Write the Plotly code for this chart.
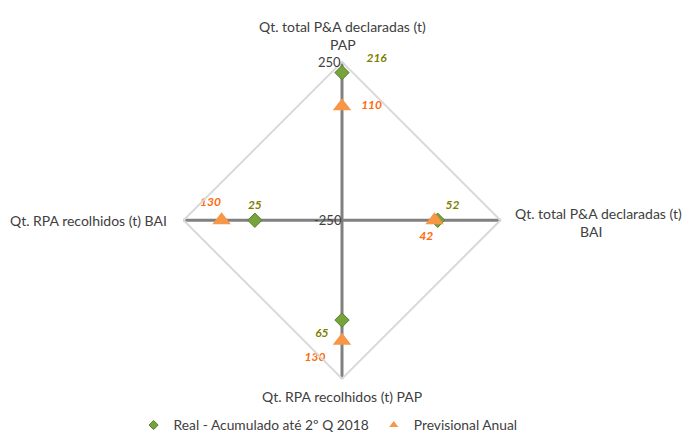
import plotly.graph_objects as go

categories = ["Qt. total P&A declaradas (t) PAP",
              "Qt. total P&A declaradas (t) BAI",
              "Qt. RPA recolhidos (t) PAP",
              "Qt. RPA recolhidos (t) BAI"]
real_vals = [216, 52, 65, 25]
prev_vals = [110, 42, 130, 130]
real_name = "Real - Acumulado até 2º Q 2018"
prev_name = "Previsional Anual"
axis_min, axis_max = -250, 250

FONT = "Lato"
W, H = 685, 441
DY = 6  # vertical correction
EN = "\u2002"
NB = "\u00a0"

# radial scale runs from axis_min at centre to axis_max at the rim
def shift(vals):
    return [v - axis_min for v in vals]

real_text = [EN * 3 + "%d" % real_vals[0], "%d" % real_vals[1],
             "%d" % real_vals[2] + EN, "%d" % real_vals[3]]
prev_text = [EN + NB + "%d" % prev_vals[0], "%d" % prev_vals[1] + EN * 3,
             "%d" % prev_vals[2] + EN, "%d" % prev_vals[3] + EN * 4]

fig = go.Figure()
fig.add_trace(go.Scatterpolar(
    r=shift(real_vals), theta=categories, name=real_name, showlegend=False,
    mode="markers+text",
    text=["<b><i>%s</i></b>" % t for t in real_text],
    textposition=["top right", "top right", "bottom left", "top center"],
    textfont=dict(family=FONT, size=12, color="#7f7f00"),
    marker=dict(symbol="diamond", size=11, color="#77a33c",
                line=dict(color="#5a7d2c", width=1)),
))
fig.add_trace(go.Scatterpolar(
    r=shift(prev_vals), theta=categories, name=prev_name, showlegend=False,
    mode="markers+text",
    text=["<b><i>%s</i></b>" % t for t in prev_text],
    textposition=["middle right", "bottom center", "bottom left", "top center"],
    textfont=dict(family=FONT, size=12, color="#ff6a0e"),
    marker=dict(symbol="triangle-up", size=16, color="#f79646", line=dict(width=0)),
))
# legend entries with small symbols
fig.add_trace(go.Scatterpolar(r=[None], theta=[categories[0]], name=real_name, mode="markers",
                              marker=dict(symbol="diamond", size=7, color="#77a33c",
                                          line=dict(color="#5a7d2c", width=1))))
fig.add_trace(go.Scatterpolar(r=[None], theta=[categories[0]], name=prev_name, mode="markers",
                              marker=dict(symbol="triangle-up", size=8, color="#f79646")))

def px(x):
    return x / W

def py(y):
    return 1 - (y + DY) / H

lab_font = dict(family=FONT, size=14, color="#404040")
tick_font = dict(family=FONT, size=13, color="#404040")
annotations = [
    # category labels
    dict(text="Qt. total P&A declaradas (t)", x=px(342), y=py(21), xanchor="center", yanchor="middle", font=lab_font),
    dict(text="PAP", x=px(343), y=py(40), xanchor="center", yanchor="middle", font=lab_font),
    dict(text="Qt. total P&A declaradas (t)", x=px(598), y=py(215), xanchor="center", yanchor="middle", font=lab_font),
    dict(text="BAI", x=px(591), y=py(234), xanchor="center", yanchor="middle", font=lab_font),
    dict(text="Qt. RPA recolhidos (t) PAP", x=px(342), y=py(404), xanchor="center", yanchor="middle", font=lab_font),
    dict(text="Qt. RPA recolhidos (t) BAI", x=px(168), y=py(222), xanchor="right", yanchor="middle", font=lab_font),
    # radial axis labels
    dict(text=str(axis_max), x=px(342), y=py(58), xanchor="right", yanchor="middle", font=tick_font),
    dict(text=str(axis_min), x=px(343), y=py(222), xanchor="right", yanchor="middle", font=tick_font),
]
for a in annotations:
    a.update(xref="paper", yref="paper", showarrow=False, align="center", borderpad=0)

fig.update_layout(
    width=W, height=H,
    margin=dict(l=0, r=0, t=0, b=0),
    paper_bgcolor="white", plot_bgcolor="white",
    font=dict(family=FONT, size=13, color="#404040"),
    annotations=annotations,
    polar=dict(
        domain=dict(x=[178 / W, 506 / W], y=[py(386), py(58)]),
        bgcolor="white",
        gridshape="linear",
        radialaxis=dict(range=[0, axis_max - axis_min], tickvals=[0, axis_max - axis_min],
                        showgrid=False, showline=False, angle=90, ticks="",
                        showticklabels=False),
        angularaxis=dict(rotation=90, direction="clockwise", categoryorder="array",
                         categoryarray=categories,
                         showline=True, linecolor="#d9d9d9", linewidth=2,
                         showgrid=True, gridcolor="#808080", gridwidth=3,
                         ticks="", showticklabels=False),
    ),
    legend=dict(orientation="h", x=0.479, xanchor="center", y=py(418), yanchor="top",
                font=dict(family=FONT, size=13.8, color="#404040"),
                itemsizing="trace", itemwidth=30, tracegroupgap=0),
)

fig.write_html("out.html", config={"displayModeBar": False},
               post_script="document.body.style.margin='0';")
